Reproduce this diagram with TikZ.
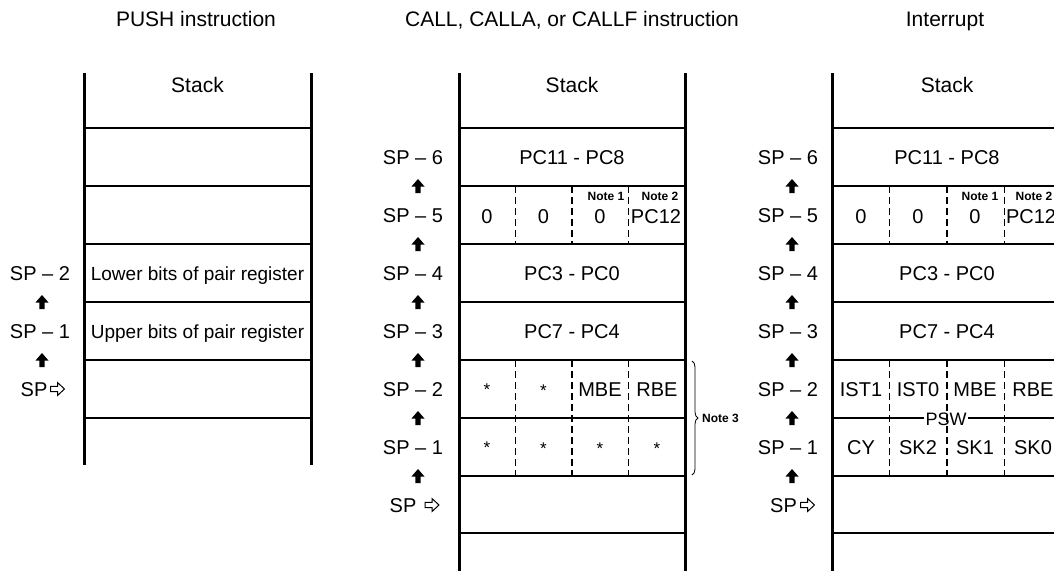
\documentclass[tikz,border=0pt]{standalone}
\usepackage{fontspec}
\setmainfont{Liberation Sans}
\usetikzlibrary{decorations.pathreplacing}
\tikzset{
  vline/.style={line width=3pt},
  hline/.style={line width=2.2pt},
  dline/.style={line width=1.9pt, dash pattern=on 7pt off 4pt},
  txt/.style={font=\fontsize{20}{24}\selectfont, anchor=base, inner sep=0pt},
  small/.style={font=\fontsize{19}{23}\selectfont, anchor=base, inner sep=0pt},
  ttl/.style={font=\fontsize{21}{25}\selectfont, anchor=base, inner sep=0pt},
  note/.style={font=\bfseries\fontsize{12}{14}\selectfont, inner sep=0pt},
  star/.style={font=\fontsize{17}{19}\selectfont, inner sep=0pt},
  uparr/.pic={\fill (-6.5,0.5) -- (0,-7) -- (6.5,0.5) -- (2.6,0.5) -- (2.6,7) -- (-2.6,7) -- (-2.6,0.5) -- cycle;},
  rarr/.pic={\draw[line width=1pt, line join=miter] (0,-2.7) -- (7,-2.7) -- (7,-6.5) -- (14,0) -- (7,6.5) -- (7,2.7) -- (0,2.7) -- cycle;}
}
\begin{document}
\begin{tikzpicture}[x=1pt,y=-1pt]
\clip (0,0) rectangle (1054,571);
\fill[white] (0,0) rectangle (1054,571);

% titles
\node[ttl] (t1) at (196,26) {PUSH instruction};
\node[ttl] (t2) at (572,26) {CALL, CALLA, or CALLF instruction};
\node[ttl] (t3) at (945,26) {Interrupt};

% ---------------- left stack ----------------
\foreach \y in {128,186,244,302,360,418} \draw[hline] (84,\y) -- (311,\y);
\draw[vline] (84,73) -- (84,465);
\draw[vline] (311,73) -- (311,465);
\node[ttl] (s1) at (197.5,92) {Stack};
\node[small] (l1) at (197.5,280) {Lower bits of pair register};
\node[small] (l2) at (197.5,338) {Upper bits of pair register};
\node[txt] (a2) at (40,280) {SP \textendash{} 2};
\node[txt] (a1) at (40,338) {SP \textendash{} 1};
\node[txt] (a0) at (34,396) {SP};
\pic at (42,302) {uparr};
\pic at (42,360) {uparr};
\pic at (50.5,389) {rarr};

% ---------------- middle stack ----------------
\foreach \y in {128,186,244,302,360,418,476,533} \draw[hline] (459,\y) -- (685,\y);
\foreach \x in {515.5,572,628.5} {
  \draw[dline] (\x,186) -- (\x,244);
  \draw[dline] (\x,360) -- (\x,476);
}
\draw[vline] (459,73) -- (459,571);
\draw[vline] (685,73) -- (685,571);
\node[ttl] (s2) at (572,92) {Stack};
\node[txt] (m6) at (572,164) {PC11 - PC8};
\node[txt] (m5a) at (487,223) {0};
\node[txt] (m5b) at (543.5,223) {0};
\node[txt] (m5c) at (600,223) {0};
\node[txt] (m5d) at (656,223) {PC12};
\node[note] (n1) at (606,196) {Note 1};
\node[note] (n2) at (660,196) {Note 2};
\node[txt] (m4) at (572,280) {PC3 - PC0};
\node[txt] (m3) at (572,338) {PC7 - PC4};
\node[star] (m2a) at (487,390) {*};
\node[star] (m2b) at (543.5,391) {*};
\node[txt] (m2c) at (600,396) {MBE};
\node[txt] (m2d) at (657,396) {RBE};
\node[star] (m1a) at (487,448) {*};
\node[star] (m1b) at (543.5,449) {*};
\node[star] (m1c) at (600,449) {*};
\node[star] (m1d) at (657,449) {*};
\draw[line width=0.8pt, decorate, decoration={brace, amplitude=6pt}] (692,361) -- (692,475);
\node[note, anchor=west] (n3) at (702,418) {Note 3};

\node[txt] (b6) at (413,164) {SP \textendash{} 6};
\node[txt] (b5) at (413,222) {SP \textendash{} 5};
\node[txt] (b4) at (413,280) {SP \textendash{} 4};
\node[txt] (b3) at (413,338) {SP \textendash{} 3};
\node[txt] (b2) at (413,396) {SP \textendash{} 2};
\node[txt] (b1) at (413,454) {SP \textendash{} 1};
\node[txt] (b0) at (403,512) {SP};
\foreach \y in {186,244,302,360,418,476} \pic at (418,\y) {uparr};
\pic at (425,505) {rarr};

% ---------------- right stack ----------------
\foreach \y in {128,186,244,302,360,418,476,533} \draw[hline] (832,\y) -- (1062,\y);
\node[font=\fontsize{18}{22}\selectfont, fill=white, inner sep=1.5pt] (psw) at (946,419) {PSW};
\foreach \x in {889.5,947,1004.5} {
  \draw[dline] (\x,186) -- (\x,244);
  \draw[dline] (\x,360) -- (\x,476);
}
\draw[vline] (832,73) -- (832,571);
\draw[vline] (1062,73) -- (1062,571);
\node[ttl] (s3) at (947,92) {Stack};
\node[txt] (r6) at (947,164) {PC11 - PC8};
\node[txt] (r5a) at (861,223) {0};
\node[txt] (r5b) at (918,223) {0};
\node[txt] (r5c) at (975,223) {0};
\node[txt] (r5d) at (1031,223) {PC12};
\node[note] (rn1) at (980,196) {Note 1};
\node[note] (rn2) at (1034,196) {Note 2};
\node[txt] (r4) at (947,280) {PC3 - PC0};
\node[txt] (r3) at (947,338) {PC7 - PC4};
\node[txt] (r2a) at (861,396) {IST1};
\node[txt] (r2b) at (918,396) {IST0};
\node[txt] (r2c) at (975,396) {MBE};
\node[txt] (r2d) at (1033,396) {RBE};
\node[txt] (r1a) at (861,454) {CY};
\node[txt] (r1b) at (918,454) {SK2};
\node[txt] (r1c) at (975,454) {SK1};
\node[txt] (r1d) at (1033,454) {SK0};

\node[txt] (c6) at (788,164) {SP \textendash{} 6};
\node[txt] (c5) at (788,222) {SP \textendash{} 5};
\node[txt] (c4) at (788,280) {SP \textendash{} 4};
\node[txt] (c3) at (788,338) {SP \textendash{} 3};
\node[txt] (c2) at (788,396) {SP \textendash{} 2};
\node[txt] (c1) at (788,454) {SP \textendash{} 1};
\node[txt] (c0) at (783.5,512) {SP};
\foreach \y in {186,244,302,360,418,476} \pic at (792,\y) {uparr};
\pic at (800.5,505) {rarr};
\end{tikzpicture}
\end{document}
